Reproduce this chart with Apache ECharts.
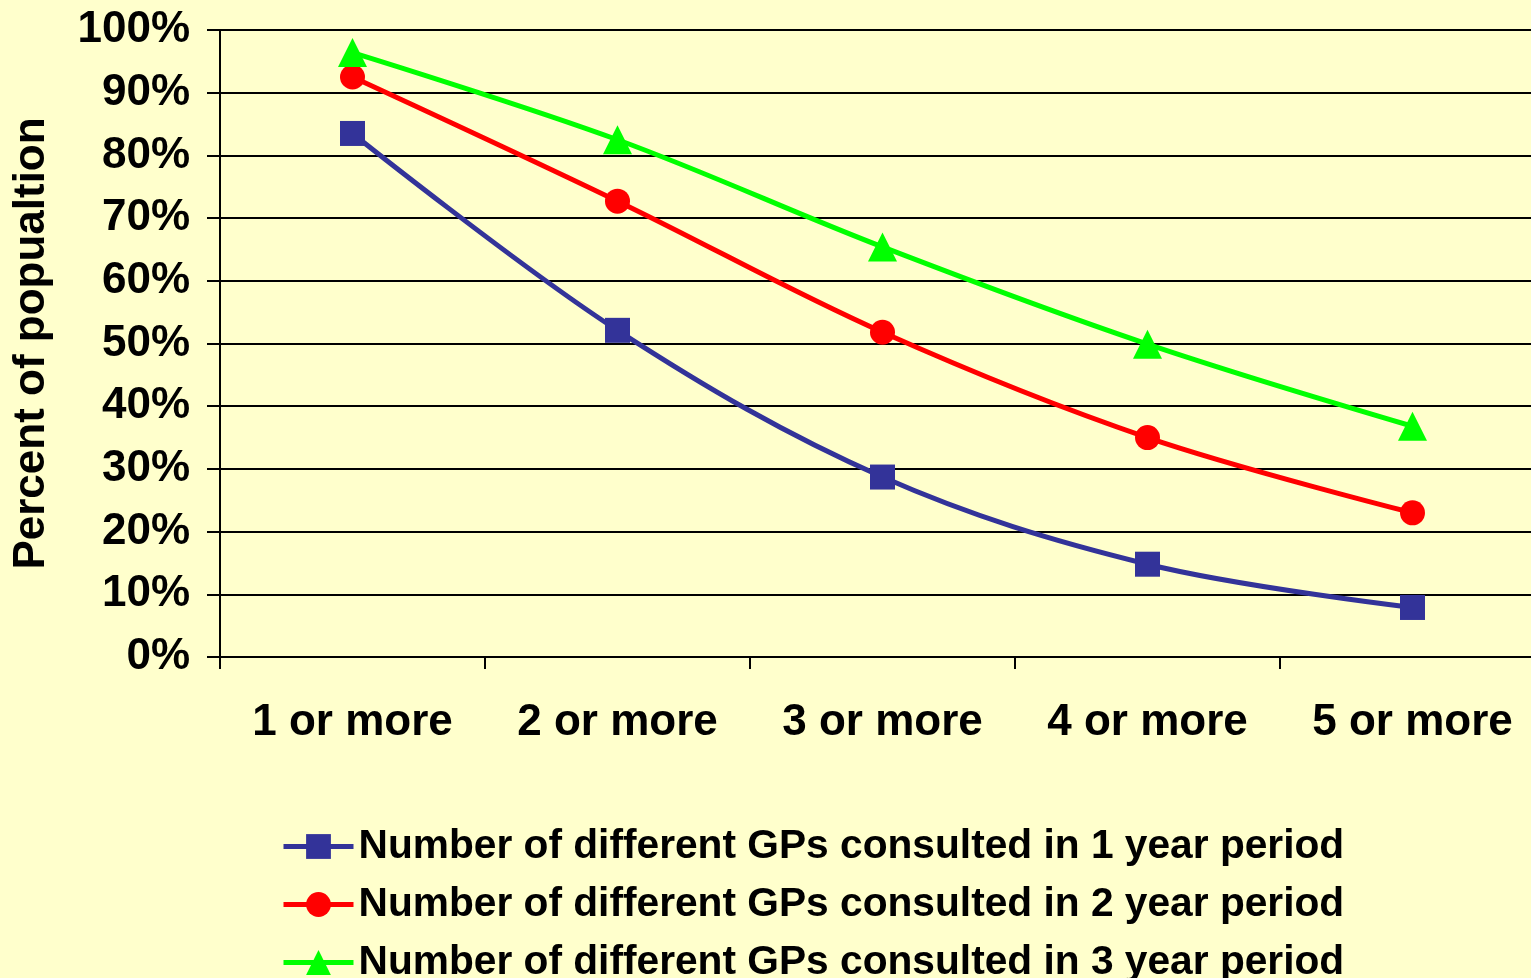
<!DOCTYPE html>
<html>
<head>
<meta charset="utf-8">
<script src="https://cdn.jsdelivr.net/npm/echarts@6/dist/echarts.min.js"></script>
<style>
html,body{margin:0;padding:0;background:#FFFFCC;}
#c{width:1531px;height:978px;}
</style>
</head>
<body>
<div id="c"></div>
<script>
const categories = ['1 or more', '2 or more', '3 or more', '4 or more', '5 or more'];
const seriesNames = [
  'Number of different GPs consulted in 1 year period',
  'Number of different GPs consulted in 2 year period',
  'Number of different GPs consulted in 3 year period'
];
const oneYear = [83.5, 52.1, 28.7, 14.8, 7.9];
const twoYear = [92.5, 72.7, 51.8, 35.0, 23.0];
const threeYear = [96.4, 82.5, 65.4, 49.9, 36.8];
const yTicks = [0, 10, 20, 30, 40, 50, 60, 70, 80, 90, 100];

const FONT = '"Liberation Sans", Arial, sans-serif';
const chart = echarts.init(document.getElementById('c'), null, {renderer: 'canvas'});

function mkSeries(name, data, color, symbol, size) {
  return {
    name: name, type: 'line', data: data,
    smooth: 0.35,
    symbol: symbol, symbolSize: size,
    lineStyle: {color: color, width: 5},
    itemStyle: {color: color},
    emphasis: {disabled: true},
    z: 3
  };
}

chart.setOption({
  backgroundColor: '#FFFFCC',
  animation: false,
  grid: {left: 220, top: 30, width: 1325, height: 627, containLabel: false, outerBoundsMode: 'none'},
  legend: {
    orient: 'vertical', left: 281, top: 826, padding: 0, height: 200,
    itemWidth: 70, itemHeight: 31, itemGap: 17, itemTextGap: 12,
    lineStyle: {width: 5},
    textStyle: {fontFamily: FONT, fontWeight: 'bold', fontSize: 40.7, color: '#000', lineHeight: 40},
    data: seriesNames
  },
  xAxis: {
    type: 'category', data: categories, boundaryGap: true,
    axisLine: {lineStyle: {color: '#000', width: 2}},
    axisTick: {show: true, length: 12, lineStyle: {color: '#000', width: 2}},
    axisLabel: {fontFamily: FONT, fontWeight: 'bold', fontSize: 44, color: '#000', margin: 44, interval: 0}
  },
  yAxis: {
    type: 'value', min: yTicks[0], max: yTicks[yTicks.length - 1], interval: 10,
    name: 'Percent of popualtion', nameLocation: 'middle', nameRotate: 90, nameGap: 166,
    nameTextStyle: {fontFamily: FONT, fontWeight: 'bold', fontSize: 44, color: '#000'},
    axisLine: {show: true, lineStyle: {color: '#000', width: 2}},
    axisTick: {show: true, length: 13, lineStyle: {color: '#000', width: 2}},
    splitLine: {show: true, lineStyle: {color: '#000', width: 2}},
    axisLabel: {fontFamily: FONT, fontWeight: 'bold', fontSize: 44, color: '#000', margin: 30, formatter: '{value}%'}
  },
  series: [
    mkSeries(seriesNames[0], oneYear, '#333399', 'rect', 25),
    mkSeries(seriesNames[1], twoYear, '#FF0000', 'circle', 25),
    mkSeries(seriesNames[2], threeYear, '#00FF00', 'triangle', 29)
  ]
});
</script>
</body>
</html>
